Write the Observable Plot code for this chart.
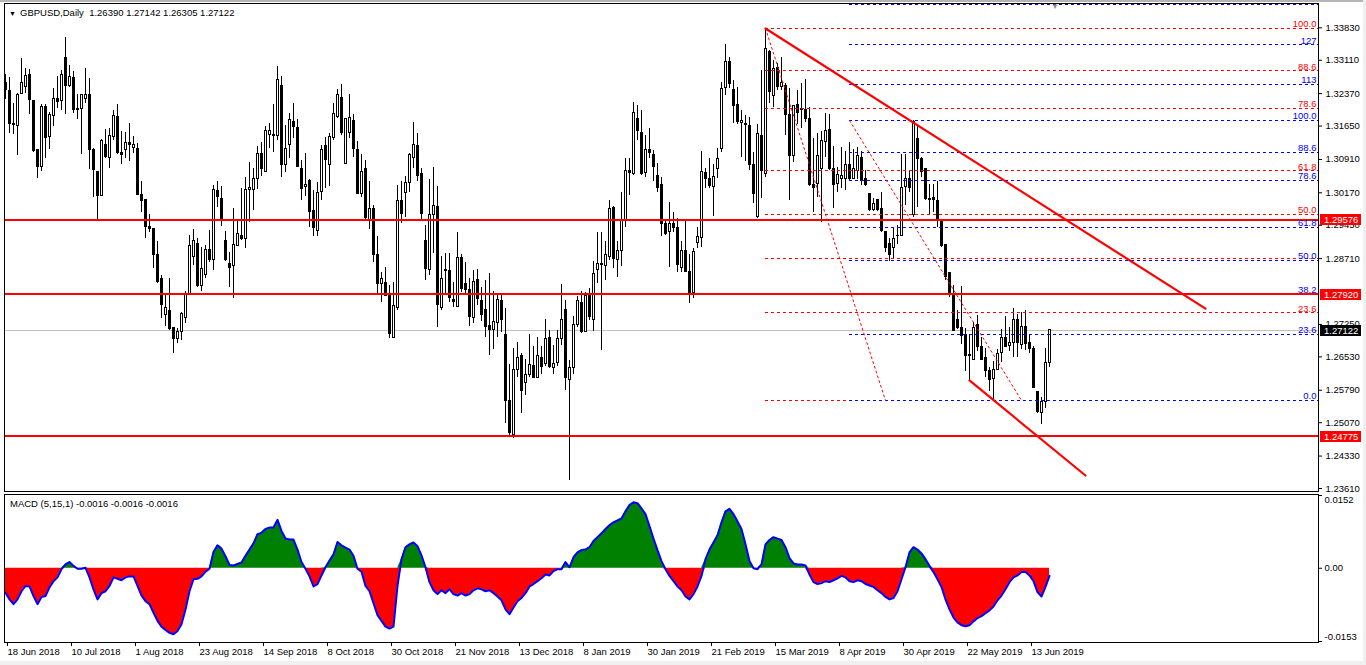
<!DOCTYPE html>
<html><head><meta charset="utf-8"><title>GBPUSD,Daily</title>
<script src="https://cdn.jsdelivr.net/npm/d3@7"></script>
<script src="https://cdn.jsdelivr.net/npm/@observablehq/plot@0.6"></script>
<style>
html,body{margin:0;padding:0;background:#fff;overflow:hidden}
#wrap{position:relative;width:1366px;height:665px;overflow:hidden;background:#fff;font-family:"Liberation Sans",Arial,sans-serif;font-size:9.5px;color:#000}
#main,#macd{position:absolute;left:0}
#main{top:0}
#macd{top:492px}
#main svg,#macd svg{display:block;overflow:visible}
.t{position:absolute;white-space:pre;line-height:11px}
</style></head><body><div id="wrap">
<div id="main"></div><div id="macd"></div>
<div class="t" style="left:9px;top:8px;font-size:7px">▼</div>
<div class="t" style="left:20px;top:7px">GBPUSD,Daily  1.26390 1.27142 1.26305 1.27122</div>
<div class="t" style="left:10px;top:498px">MACD (5,15,1) -0.0016 -0.0016 -0.0016</div>
<div style="position:absolute;left:0;top:0;width:1366px;height:2px;background:#b4b4b4"></div>
<div style="position:absolute;left:1363px;top:0;width:3px;height:665px;background:#f0f0f0"></div>
<div style="position:absolute;left:0;top:661px;width:1366px;height:4px;background:#f0f0f0"></div>
<div class="t" style="left:1051px;top:1px;color:#909090;font-size:8px">▼</div>
</div>
<script>
// ---- daily candles (bar 0 = 18 Jun 2018) ----
const open = [
1.3261,1.3242,1.3170,1.3166,1.3236,1.3251,1.3279,1.3220,1.3111,1.3074,
1.3207,1.3140,1.3187,1.3224,1.3220,1.3316,1.3255,1.3271,1.3203,1.3202,
1.3225,1.3233,1.3113,1.3064,1.3010,1.3122,1.3094,1.3140,1.3185,1.3105,
1.3111,1.3128,1.3116,1.3114,1.3013,1.3002,1.2941,1.2936,1.2878,1.2825,
1.2745,1.2754,1.2717,1.2692,1.2709,1.2739,1.2793,1.2874,1.2904,1.2811,
1.2835,1.2891,1.2867,1.3022,1.3004,1.2911,1.2859,1.2854,1.2900,1.2922,
1.2915,1.3024,1.3024,1.3047,1.3103,1.3063,1.3146,1.3146,1.3142,1.3253,
1.3079,1.3122,1.3175,1.3161,1.3070,1.3030,1.3044,1.2976,1.2932,1.3018,
1.3120,1.3079,1.3139,1.3186,1.3228,1.3081,1.3149,1.3177,1.3111,1.3015,
1.3069,1.2957,1.2980,1.2878,1.2814,1.2817,1.2791,1.2695,1.2762,1.2998,
1.3017,1.3039,1.3095,1.3120,1.3059,1.2909,1.2845,1.2967,1.2985,1.2762,
1.2843,1.2843,1.2780,1.2763,1.2873,1.2815,1.2802,1.2739,1.2823,1.2778,
1.2756,1.2721,1.2713,1.2729,1.2776,1.2701,1.2555,1.2479,1.2623,1.2654,
1.2596,1.2613,1.2632,1.2606,1.2650,1.2638,1.2695,1.2629,1.2640,1.2692,
1.2757,1.2601,1.2629,1.2723,1.2773,1.2709,1.2788,1.2735,1.2846,1.2859,
1.2854,1.2874,1.2984,1.2867,1.2888,1.2956,1.3066,1.3059,1.3181,1.3150,
1.3061,1.3112,1.3100,1.3055,1.3035,1.2947,1.2930,1.2948,1.2939,1.2850,
1.2888,1.2842,1.2795,1.2906,1.2917,1.3061,1.3048,1.3030,1.3070,1.3115,
1.3249,1.3308,1.3246,1.3212,1.3172,1.3170,1.3166,1.3079,1.2963,1.3144,
1.3059,1.3330,1.3231,1.3294,1.3251,1.3254,1.3190,1.3098,1.3212,1.3200,
1.3200,1.3181,1.3035,1.3037,1.3069,1.3129,1.3157,1.3070,1.3037,1.3048,
1.3047,1.3079,1.3048,1.3066,1.3094,1.3047,1.3015,1.2978,1.3002,1.2980,
1.2930,1.2904,1.2894,1.2921,1.2922,1.3030,1.3047,1.2967,1.3137,1.3092,
1.3070,1.3004,1.3005,1.2998,1.2952,1.2902,1.2839,1.2793,1.2734,1.2718,
1.2701,1.2658,1.2647,1.2723,1.2676,1.2651,1.2621,1.2604,1.2624,1.2661,
1.2695,1.2677,1.2684,1.2735,1.2680,1.2719,1.2684,1.2671,1.2576,1.2528,
1.2554,1.26390];
const high = [
1.3279,1.3272,1.3214,1.3237,1.3314,1.3292,1.3290,1.3220,1.3111,1.3212,
1.3212,1.3196,1.3249,1.3274,1.3288,1.3361,1.3299,1.3285,1.3236,1.3236,
1.3292,1.3270,1.3116,1.3064,1.3135,1.3157,1.3159,1.3199,1.3212,1.3152,
1.3150,1.3170,1.3142,1.3127,1.3041,1.3002,1.2968,1.2936,1.2909,1.2834,
1.2791,1.2826,1.2719,1.2717,1.2752,1.2798,1.2922,1.2936,1.2915,1.2896,
1.2899,1.2933,1.3033,1.3042,1.3030,1.2931,1.2885,1.2983,1.2958,1.3026,
1.3052,1.3085,1.3070,1.3120,1.3129,1.3163,1.3170,1.3213,1.3297,1.3275,
1.3166,1.3194,1.3216,1.3179,1.3089,1.3105,1.3046,1.3022,1.3039,1.3122,
1.3140,1.3148,1.3214,1.3246,1.3257,1.3181,1.3235,1.3191,1.3131,1.3101,
1.3089,1.3042,1.2989,1.2919,1.2840,1.2852,1.2811,1.2819,1.3033,1.3041,
1.3053,1.3105,1.3174,1.3148,1.3070,1.2945,1.3047,1.3072,1.3030,1.2876,
1.2883,1.2883,1.2819,1.2928,1.2880,1.2863,1.2826,1.2845,1.2847,1.2806,
1.2823,1.2839,1.2797,1.2789,1.2789,1.2760,1.2636,1.2671,1.2686,1.2661,
1.2647,1.2703,1.2676,1.2697,1.2676,1.2736,1.2712,1.2678,1.2712,1.2814,
1.2778,1.2645,1.2743,1.2786,1.2797,1.2795,1.2804,1.2865,1.2930,1.2928,
1.2908,1.3000,1.2987,1.2909,1.3018,1.3092,1.3092,1.3217,1.3211,1.3200,
1.3144,1.3160,1.3111,1.3083,1.3052,1.2956,1.2996,1.2974,1.2959,1.2908,
1.2958,1.2880,1.2894,1.2941,1.3109,1.3070,1.3092,1.3079,1.3115,1.3262,
1.3347,1.3318,1.3266,1.3251,1.3200,1.3189,1.3185,1.3106,1.3168,1.3288,
1.3381,1.3333,1.3311,1.3303,1.3318,1.3259,1.3248,1.3209,1.3244,1.3259,
1.3268,1.3207,1.3137,1.3148,1.3152,1.3194,1.3190,1.3120,1.3074,1.3118,
1.3109,1.3128,1.3113,1.3118,1.3109,1.3066,1.3015,1.3005,1.3002,1.3018,
1.2930,1.2915,1.2941,1.2945,1.3101,1.3101,1.3066,1.3177,1.3166,1.3096,
1.3070,1.3035,1.3035,1.3041,1.2952,1.2902,1.2839,1.2811,1.2756,1.2809,
1.2715,1.2703,1.2730,1.2745,1.2697,1.2671,1.2630,1.2643,1.2669,1.2713,
1.2743,1.2718,1.2760,1.2747,1.2752,1.2756,1.2702,1.2676,1.2576,1.2562,
1.2672,1.27142];
const low = [
1.3225,1.3148,1.3146,1.3100,1.3236,1.3237,1.3190,1.3106,1.3048,1.3064,
1.3092,1.3113,1.3165,1.3205,1.3199,1.3190,1.3251,1.3192,1.3180,1.3101,
1.3214,1.3069,1.3007,1.2956,1.3010,1.3094,1.3070,1.3133,1.3101,1.3079,
1.3092,1.3086,1.3105,1.3013,1.2973,1.2916,1.2930,1.2850,1.2815,1.2739,
1.2721,1.2712,1.2660,1.2682,1.2689,1.2726,1.2793,1.2856,1.2808,1.2797,
1.2826,1.2862,1.2845,1.2985,1.2943,1.2865,1.2808,1.2782,1.2899,1.2911,
1.2894,1.2952,1.2978,1.3024,1.3054,1.3063,1.3116,1.3107,1.3133,1.3052,
1.3061,1.3092,1.3137,1.3072,1.2999,1.3009,1.2939,1.2921,1.2919,1.3001,
1.3026,1.3030,1.3132,1.3181,1.3144,1.3080,1.3137,1.3096,1.3015,1.3007,
1.2954,1.2935,1.2863,1.2793,1.2774,1.2788,1.2693,1.2695,1.2757,1.2948,
1.2962,1.3018,1.3070,1.3043,1.2954,1.2823,1.2834,1.2882,1.2719,1.2755,
1.2793,1.2773,1.2762,1.2763,1.2795,1.2793,1.2721,1.2728,1.2766,1.2732,
1.2695,1.2656,1.2669,1.2697,1.2708,1.2505,1.2479,1.2473,1.2607,1.2527,
1.2567,1.2608,1.2604,1.2604,1.2615,1.2632,1.2627,1.2613,1.2632,1.2678,
1.2578,1.2379,1.2613,1.2719,1.2704,1.2708,1.2734,1.2710,1.2815,1.2667,
1.2823,1.2867,1.2848,1.2830,1.2854,1.2941,1.3011,1.3055,1.3133,1.3055,
1.3052,1.3094,1.3041,1.3018,1.2921,1.2922,1.2852,1.2930,1.2841,1.2841,
1.2841,1.2771,1.2782,1.2893,1.2896,1.3026,1.3026,1.2965,1.3048,1.3107,
1.3233,1.3248,1.3170,1.3168,1.3096,1.3086,1.3066,1.2993,1.2959,1.3004,
1.3052,1.3215,1.3207,1.3244,1.3244,1.3144,1.3000,1.3085,1.3168,1.3160,
1.3174,1.3032,1.2973,1.3007,1.2952,1.3096,1.3066,1.2983,1.3018,1.3026,
1.3022,1.3044,1.3047,1.3047,1.3033,1.3030,1.2976,1.2976,1.2976,1.2930,
1.2885,1.2865,1.2871,1.2902,1.2921,1.2989,1.3018,1.2963,1.2985,1.3052,
1.3000,1.2967,1.2974,1.2941,1.2896,1.2823,1.2784,1.2710,1.2713,1.2681,
1.2621,1.2601,1.2644,1.2664,1.2644,1.2608,1.2577,1.2556,1.2623,1.2641,
1.2676,1.2666,1.2651,1.2651,1.2669,1.2667,1.2661,1.2582,1.2528,1.2502,
1.2539,1.26305];
const close = [
1.3244,1.3170,1.3168,1.3234,1.3261,1.3277,1.3222,1.3109,1.3074,1.3207,
1.3138,1.3190,1.3224,1.3218,1.3279,1.3255,1.3274,1.3200,1.3200,1.3233,
1.3234,1.3111,1.3068,1.3010,1.3131,1.3096,1.3142,1.3188,1.3105,1.3101,
1.3128,1.3123,1.3123,1.3013,1.2998,1.2941,1.2937,1.2879,1.2820,1.2768,
1.2761,1.2715,1.2693,1.2709,1.2748,1.2793,1.2900,1.2909,1.2811,1.2847,
1.2891,1.2867,1.3024,1.3007,1.2956,1.2867,1.2850,1.2902,1.2926,1.2915,
1.3024,1.3028,1.3047,1.3103,1.3069,1.3153,1.3155,1.3142,1.3268,1.3079,
1.3115,1.3179,1.3163,1.3074,1.3026,1.3035,1.2974,1.2939,1.3017,1.3112,
1.3090,1.3140,1.3191,1.3233,1.3149,1.3181,1.3183,1.3115,1.3015,1.3063,
1.2962,1.2982,1.2878,1.2814,1.2826,1.2788,1.2704,1.2765,1.2998,1.2969,
1.3039,1.3100,1.3124,1.3055,1.2970,1.2848,1.2967,1.2987,1.2769,1.2825,
1.2845,1.2783,1.2774,1.2873,1.2803,1.2802,1.2741,1.2820,1.2782,1.2746,
1.2719,1.2712,1.2730,1.2780,1.2734,1.2556,1.2484,1.2624,1.2651,1.2577,
1.2612,1.2634,1.2607,1.2656,1.2630,1.2692,1.2630,1.2638,1.2692,1.2735,
1.2607,1.2629,1.2724,1.2778,1.2709,1.2788,1.2741,1.2837,1.2859,1.2857,
1.2878,1.2981,1.2871,1.2888,1.2956,1.3066,1.3061,1.3194,1.3153,1.3059,
1.3112,1.3105,1.3074,1.3028,1.2948,1.2926,1.2948,1.2939,1.2857,1.2888,
1.2841,1.2793,1.2885,1.2920,1.3064,1.3048,1.3033,1.3052,1.3092,1.3248,
1.3308,1.3259,1.3209,1.3175,1.3177,1.3168,1.3079,1.3015,1.3148,1.3066,
1.3336,1.3240,1.3291,1.3251,1.3261,1.3190,1.3098,1.3209,1.3194,1.3203,
1.3181,1.3035,1.3027,1.3098,1.3131,1.3153,1.3069,1.3035,1.3057,1.3055,
1.3079,1.3047,1.3070,1.3098,1.3044,1.3035,1.2978,1.2993,1.2978,1.2933,
1.2894,1.2878,1.2915,1.2922,1.3027,1.3047,1.3027,1.3174,1.3092,1.3063,
1.3004,1.3002,1.3000,1.2956,1.2900,1.2830,1.2793,1.2710,1.2718,1.2699,
1.2656,1.2655,1.2718,1.2675,1.2647,1.2621,1.2601,1.2625,1.2660,1.2695,
1.2676,1.2684,1.2734,1.2684,1.2719,1.2682,1.2671,1.2584,1.2530,1.2554,
1.2640,1.27122];

// ---- MACD (5,15,1) main line, one value per bar ----
const macd = [
-0.0051,-0.0065,-0.0075,-0.0065,-0.0048,-0.0037,-0.0038,-0.0058,-0.0075,-0.0060,
-0.0058,-0.0040,-0.0027,-0.0019,-0.0002,0.0008,0.0013,0.0005,-0.0001,-0.0001,
0.0001,-0.0019,-0.0044,-0.0065,-0.0052,-0.0048,-0.0037,-0.0019,-0.0022,-0.0025,
-0.0019,-0.0017,-0.0017,-0.0037,-0.0057,-0.0069,-0.0075,-0.0093,-0.0110,-0.0122,
-0.0129,-0.0135,-0.0138,-0.0131,-0.0117,-0.0086,-0.0048,-0.0023,-0.0022,-0.0017,
-0.0007,-0.0001,0.0034,0.0048,0.0041,0.0025,0.0007,0.0006,0.0009,0.0012,
0.0026,0.0039,0.0052,0.0071,0.0074,0.0082,0.0085,0.0085,0.0101,0.0078,
0.0062,0.0060,0.0060,0.0039,0.0013,-0.0001,-0.0017,-0.0038,-0.0033,-0.0015,
0.0002,0.0016,0.0029,0.0055,0.0048,0.0043,0.0039,0.0026,-0.0001,-0.0007,
-0.0037,-0.0048,-0.0073,-0.0098,-0.0110,-0.0122,-0.0126,-0.0122,-0.0037,0.0019,
0.0044,0.0050,0.0054,0.0046,0.0027,0.0002,-0.0029,-0.0046,-0.0054,-0.0046,
-0.0052,-0.0044,-0.0054,-0.0057,-0.0052,-0.0057,-0.0054,-0.0046,-0.0042,-0.0044,
-0.0048,-0.0046,-0.0052,-0.0059,-0.0067,-0.0086,-0.0096,-0.0082,-0.0069,-0.0062,
-0.0052,-0.0038,-0.0033,-0.0027,-0.0021,-0.0013,-0.0015,-0.0006,-0.0002,-0.0002,
0.0013,0.0002,0.0023,0.0033,0.0038,0.0039,0.0044,0.0057,0.0065,0.0073,
0.0082,0.0090,0.0096,0.0100,0.0104,0.0119,0.0132,0.0138,0.0136,0.0125,
0.0113,0.0088,0.0062,0.0038,0.0015,-0.0002,-0.0016,-0.0027,-0.0038,-0.0046,
-0.0059,-0.0065,-0.0054,-0.0038,-0.0016,0.0019,0.0039,0.0054,0.0069,0.0096,
0.0119,0.0124,0.0113,0.0098,0.0082,0.0050,0.0015,0.0000,-0.0002,0.0008,
0.0050,0.0059,0.0065,0.0062,0.0059,0.0044,0.0021,0.0010,0.0008,0.0008,
0.0006,-0.0013,-0.0029,-0.0033,-0.0031,-0.0027,-0.0029,-0.0025,-0.0021,-0.0016,
-0.0019,-0.0027,-0.0029,-0.0025,-0.0027,-0.0033,-0.0036,-0.0039,-0.0046,-0.0052,
-0.0060,-0.0065,-0.0062,-0.0048,-0.0023,0.0002,0.0033,0.0044,0.0039,0.0031,
0.0019,0.0005,-0.0008,-0.0023,-0.0039,-0.0065,-0.0086,-0.0103,-0.0113,-0.0119,
-0.0121,-0.0119,-0.0111,-0.0104,-0.0100,-0.0094,-0.0088,-0.0080,-0.0067,-0.0057,
-0.0044,-0.0029,-0.0019,-0.0015,-0.0008,-0.0008,-0.0015,-0.0027,-0.0050,-0.0059,
-0.0039,-0.0016];

// ---- axes ----
const dateBars = [0,16,32,48,64,80,96,112,128,144,160,176,192,208,224,240,256];
const dateLabels = ["18 Jun 2018","10 Jul 2018","1 Aug 2018","23 Aug 2018","14 Sep 2018","8 Oct 2018","30 Oct 2018","21 Nov 2018","13 Dec 2018","8 Jan 2019","30 Jan 2019","21 Feb 2019","15 Mar 2019","8 Apr 2019","30 Apr 2019","22 May 2019","13 Jun 2019"];
const priceTicks = [1.3383,1.3311,1.3237,1.3165,1.3091,1.3017,1.2945,1.2871,1.2725,1.2653,1.2579,1.2507,1.2433,1.2361];
const macdTicks = [0.0152, 0, -0.0153];
const macdTickLabels = ["0.0152", "0.00", "-0.0153"];

// ---- drawn objects ----
const hLines = [1.29576, 1.27920, 1.24775];
const lastPrice = 1.27122;
const trendUpper = [[190, 1.33815], [300, 1.2760]];
const trendLower = [[241, 1.26007], [270, 1.23899]];
const fibRedAnchors = [[190, 1.33815], [220, 1.25563]];
const fibBlueAnchors = [[211, 1.31774], [254, 1.25563]];
const fibRedLevels = [100, 88.6, 78.6, 61.8, 50, 38.2, 23.6, 0];
const fibRedLabels = ["100.0","88.6","78.6","61.8","50.0","","23.6",""]; // 38.2 and 0.0 sit under the blue captions
const fibBlueLevels = [141.4, 127, 113, 100, 88.6, 78.6, 61.8, 50, 38.2, 23.6, 0];
const fibBlueLabels = ["","127","113","100.0","88.6","78.6","61.8","50.0","38.2","23.6","0.0"];
const priceBoxes = [
  {v: 1.29576, bg: "#ff0000"},
  {v: 1.27920, bg: "#ff0000"},
  {v: 1.27122, bg: "#000000"},
  {v: 1.24775, bg: "#ff0000"}
];

const RED = "#ff0000", BLUE = "#0000ff", GREEN = "#008000";
const xDomain = [-0.25, 328.25];
const idx = d3.range(open.length);
const fibPrice = (a, l) => a[1][1] + l / 100 * (a[0][1] - a[1][1]);
const font = {background: "transparent", fontFamily: "'Liberation Sans', Arial, sans-serif", fontSize: "9.5px", color: "#000", overflow: "visible"};
const crisp = "crispEdges";

const main = Plot.plot({
  width: 1366, height: 492,
  marginLeft: 4, marginRight: 48, marginTop: 3, marginBottom: 1,
  x: {domain: xDomain, axis: null},
  y: {domain: [1.23544, 1.34369]},
  style: font,
  marks: [
    Plot.ruleY([lastPrice], {stroke: "#c0c0c0", shapeRendering: crisp}),
    Plot.ruleX(idx, {x: i => i, y1: i => low[i], y2: i => high[i], stroke: "#000", shapeRendering: crisp}),
    Plot.rect(idx, {
      x1: i => i - 0.25, x2: i => i + 0.25,
      y1: i => Math.min(open[i], close[i]), y2: i => Math.max(open[i], close[i]),
      fill: i => close[i] >= open[i] ? "#ffffff" : "#000000", stroke: "#000", shapeRendering: crisp
    }),
    Plot.ruleY(fibRedLevels, {y: l => fibPrice(fibRedAnchors, l), x1: fibRedAnchors[0][0], x2: xDomain[1], stroke: RED, strokeDasharray: "3,3", shapeRendering: crisp}),
    Plot.ruleY(fibBlueLevels, {y: l => fibPrice(fibBlueAnchors, l), x1: fibBlueAnchors[0][0], x2: xDomain[1], stroke: BLUE, strokeDasharray: "3,3", shapeRendering: crisp}),
    Plot.line(fibRedAnchors, {x: d => d[0], y: d => d[1], stroke: RED, strokeWidth: 1, strokeDasharray: "2,3"}),
    Plot.line(fibBlueAnchors, {x: d => d[0], y: d => d[1], stroke: RED, strokeWidth: 1, strokeDasharray: "2,3"}),
    Plot.ruleY(hLines, {stroke: RED, strokeWidth: 2, shapeRendering: crisp}),
    Plot.line(trendUpper, {x: d => d[0], y: d => d[1], stroke: RED, strokeWidth: 2.2}),
    Plot.line(trendLower, {x: d => d[0], y: d => d[1], stroke: RED, strokeWidth: 2.2}),
    Plot.text(fibRedLevels, {y: l => fibPrice(fibRedAnchors, l), text: (l, i) => fibRedLabels[i], frameAnchor: "right", textAnchor: "end", lineAnchor: "bottom", dx: -2, dy: -1, fill: RED}),
    Plot.text(fibBlueLevels, {y: l => fibPrice(fibBlueAnchors, l), text: (l, i) => fibBlueLabels[i], frameAnchor: "right", textAnchor: "end", lineAnchor: "bottom", dx: -2, dy: -1, fill: BLUE}),
    Plot.frame({stroke: "#000", shapeRendering: crisp}),
    Plot.axisY(priceTicks, {anchor: "right", tickSize: 3, tickPadding: 4, tickFormat: d => d.toFixed(5), label: null})
  ]
});
document.getElementById("main").appendChild(main);

// price tags on the right scale, placed with the plot's own y scale
const ys = main.scale("y");
const gTags = d3.select(main).append("g").attr("text-anchor", "start");
for (const b of priceBoxes) {
  const y = Math.round(ys.apply(b.v));
  gTags.append("rect").attr("x", 1320).attr("y", y - 5).attr("width", 41).attr("height", 11).attr("fill", b.bg);
  gTags.append("text").attr("x", 1324).attr("y", y + 0.5).attr("dy", "0.35em")
    .attr("text-anchor", "start").attr("fill", "#fff").attr("font-size", "9.5px").text(b.v.toFixed(5));
}

const macdPlot = Plot.plot({
  width: 1366, height: 173,
  marginLeft: 4, marginRight: 48, marginTop: 2, marginBottom: 23,
  x: {domain: xDomain},
  y: {domain: [-0.01551, 0.01541]},
  style: font,
  marks: [
    Plot.areaY(macd, {x: (d, i) => i, y1: 0, y2: d => Math.min(d, 0), fill: RED}),
    Plot.areaY(macd, {x: (d, i) => i, y1: 0, y2: d => Math.max(d, 0), fill: GREEN}),
    Plot.lineY(macd, {x: (d, i) => i, y: d => d, stroke: BLUE, strokeWidth: 2}),
    Plot.frame({stroke: "#000", shapeRendering: crisp}),
    Plot.axisY(macdTicks, {anchor: "right", tickSize: 3, tickFormat: () => "", label: null}),
    Plot.text([macdTicks[0]], {y: d => d, text: () => macdTickLabels[0], frameAnchor: "right", textAnchor: "start", lineAnchor: "top", dx: 6, dy: 1}),
    Plot.text([macdTicks[1]], {y: d => d, text: () => macdTickLabels[1], frameAnchor: "right", textAnchor: "start", lineAnchor: "middle", dx: 6}),
    Plot.text([macdTicks[2]], {y: d => d, text: () => macdTickLabels[2], frameAnchor: "right", textAnchor: "start", lineAnchor: "bottom", dx: 6, dy: -1}),
    Plot.axisX(dateBars, {anchor: "bottom", tickSize: 4, tickPadding: 2, tickFormat: d => dateLabels[dateBars.indexOf(d)], textAnchor: "start", dx: 2, label: null})
  ]
});
document.getElementById("macd").appendChild(macdPlot);
</script>
</body></html>
